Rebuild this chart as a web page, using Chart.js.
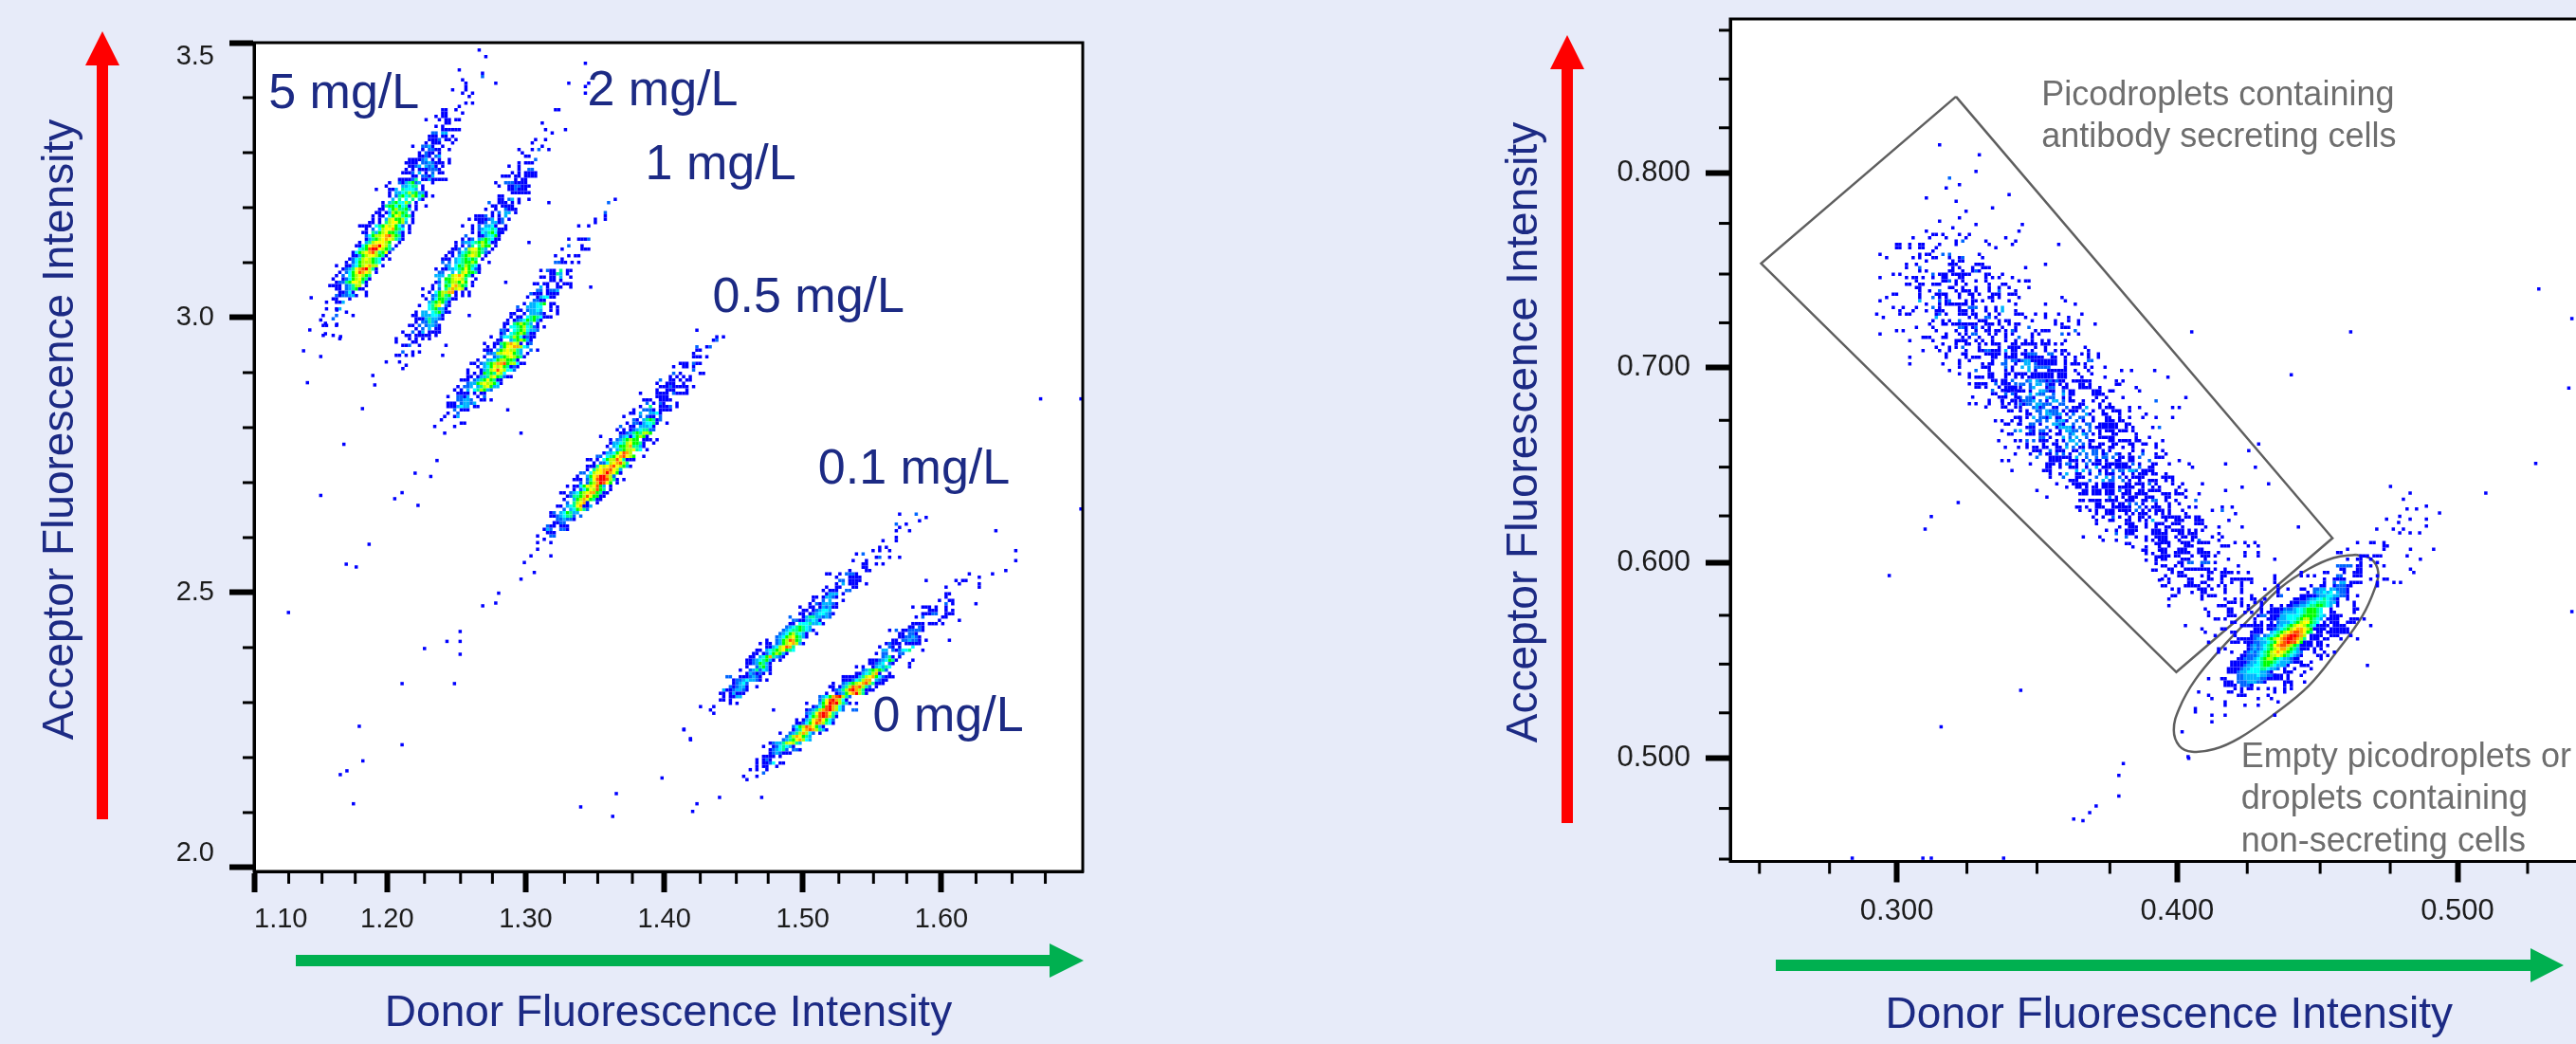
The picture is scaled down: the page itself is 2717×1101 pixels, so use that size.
<!DOCTYPE html>
<html>
<head>
<meta charset="utf-8">
<title>Donor vs acceptor fluorescence</title>
<script src="https://cdn.jsdelivr.net/npm/chart.js@4/dist/chart.umd.min.js"></script>
<style>
  html, body { margin: 0; width: 2717px; height: 1101px; overflow: hidden; background: #e7ebf9; }
  canvas { position: absolute; top: 0; }
  #left { left: 0; }
  #right { left: 1500px; }
</style>
</head>
<body>
<canvas id="left" width="1300" height="1101"></canvas>
<canvas id="right" width="1253" height="1101"></canvas>
<script>
// histogram cells. each row is [row, "cells"], a cell is
// "col" or "col-col" (lowest density) or "col=levels" (density 1..b, . = empty)
const dose5Cells = [
  [6,"47"],[8,"49"],[12,"41"],[13,"48"],[14,"48=2"],[15,"42"],[16,"43 52"],[17,"43"],[18,"39 43"],[19,"42 45"],[20,"44"],
  [22,"43 45"],[23,"41"],[24,"36-37 40"],[25,"36-37 42"],[26,"34 36-37"],[27,"31 35 37-38 40-41"],[28,"37-38"],[29,"34 36"],
  [30,"36-39 40-41"],[31,"33=22 36=33"],[32,"32-34 36-37 39"],[33,"32=1112 37-38 40"],[34,"31 33-35 39"],[35,"27 30=2231 36"],
  [36,"30 32=2211 38"],[37,"29=1.211.1"],[38,"29=1121.23"],[39,"26-29 30=23 33 35 38"],[40,"25-28 30=2232111 38"],
  [41,"26=1123.3231.1"],[42,"25=1.1.1112221"],[43,"24=1112.3.1.2.11"],[44,"27=11.2213"],[45,"23=111125.11311111"],
  [46,"20 23=2135623 33"],[47,"19 24=33455 30"],[48,"16 20 21=13.54443 30"],[49,"20 22=3345756331"],[50,"20 22=2564576461 33"],
  [51,"21=3.5.4.5.31"],[52,"18 20=3564475 28"],[53,"18=156646451 28 31"],[54,"17-18 20=4675563 28"],[55,"16-17 19=1376765 27"],
  [56,"15 17-18 20=46875651"],[57,"15 17 19=3786674 27"],[58,"14-15 17 19=5788673 27"],[59,"11-14 16=456878642 26"],
  [60,"13 15=2 17=47889654 26"],[61,"12-13 15=5367866531 26"],[62,"13=2467789a7651"],[63,"13=135678987531"],[64,"11 13=35788876 23"],
  [65,"10-11 12=46899b875 22"],[66,"11=456abb87652"],[67,"9 10=46789a75681"],[68,"9-10 11=367887651"],[69,"8 9=2457876541 20"],
  [70,"7 9=246777654"],[71,"4 7-8 9=34678977 18"],[72,"6=12 8=3589ab751"],[73,"5 7=2468a987 16"],[74,"4 6=2 8=4678765"],
  [75,"3 6=1246786 13=5 14"],[76,"4=12 6=25688751"],[77,"2-5 7=23577 13"],[78,"4=11 7=2356 11-12"],[79,"5=1124 9 13"],
  [80,"4=2122331 13"],[81,"3-4 8"],[82,"1 4=113"],[84,"1 4=13"],[85,"7"],[86,"0 4=2 9"],[87,"3=2"],[89,"0-1 4"],[92,"0 3"],[93,"5"]
];
const dose2Cells = [
  [10,"79"],[16,"74 80"],[17,"79"],[19,"79"],[24,"70-71"],[28,"66"],[30,"67 73"],[31,"69"],[33,"64 67"],[34,"63"],[35,"66"],
  [36,"59 63 65=2 68"],[37,"60"],[38,"61-62"],[39,"64=2"],[40,"59 61-63"],[41,"56 59"],[42,"59 62=22"],[43,"57 59 61-64"],
  [44,"54-56 58-59 61-64"],[45,"58 60-61"],[46,"52 55=2221111"],[47,"53 56=1122111"],[48,"56=112111"],[49,"57-62"],[50,"53-54"],
  [51,"53-54 56=23 59 62"],[52,"50=2 53-55 57 59 68"],[53,"51-52 54-57"],[54,"49 52 55=2111"],[55,"51 53=2 55=33 58"],
  [56,"46-48 49=2 51 53 55=3"],[57,"44 46=111123 53=12 56"],[58,"47=112 51=3312"],[59,"42 45 47=2 49=3341 55"],
  [60,"45 47=23445411 55"],[61,"45 47=14356411 53-54"],[62,"43=2 47=1134461"],[63,"42 44=12 47=35654 52-53"],
  [64,"40 42=2334567641 52 62"],[65,"40 42 44=25 47=5766 52"],[66,"39-40 41=2 43=3788653 51"],[67,"38-39 41=2456776521"],
  [68,"37 39 41=3567876 49"],[69,"36-38 40=3456565 48"],[70,"36=2 38=2 40=3456676 50"],[71,"37=23 40=46576541"],
  [72,"34 36-37 38=3345686421 47"],[73,"35=22 39=3 41=578665 47"],[74,"34=333 38=5789865 45"],[75,"35=3 37=6678875 46"],
  [76,"34=12 37=5677686 45 55"],[77,"33 35=3 37=6589765 45"],[78,"30 33 35=2 37=5797871"],[79,"32 34=4677991 42 44"],
  [80,"30 33=236756 40 42 44"],[81,"31 33=24665311"],[82,"32=3567631"],[83,"29 32=4578 37=21"],[84,"32=456331"],
  [85,"28 30=33 33=456311"],[86,"27-28 30=333443 36 44"],[87,"28=111353321"],[88,"28 30=22532"],[89,"26-27 29=2 31=23321"],
  [90,"28 30=2 32=3 34-35"],[91,"24 27=2 29=13 32-35"],[92,"25-26 28-32 34"],[93,"22 26 28 30 32"],[94,"22 27-28"],
  [95,"24-25 26=2 29 37"],[97,"24=2 27 29"],[98,"22-23 25 27 36"],[100,"19 23"],[101,"25"],[102,"24"]
];
const dose1UpperCells = [
  [51,"88"],[52,"86=2"],[55,"85=2"],[56,"85"],[57,"82 85"],[58,"82"],[59,"77 80"],[63,"74 77-79 80=2"],[65,"74=2 78"],
  [66,"72 78-80"],[68,"70 74 76-77"],[69,"72"],[70,"70=22 72-73 75 77"]
];
const dose1LowerCells = [
  [1,"37 39=2 40-41 43=5 45-46"],[2,"40=1153 45"],[3,"37-38 40-41 43=3 46"],[4,"40-41 43"],[5,"35-36 38-39 42 44-46"],
  [6,"37=3 39 42-43 46 52"],[7,"36=22 39=1223"],[8,"34=2111 39-42"],[9,"33 36 37=344 40-41"],[10,"35=22 37-38"],
  [11,"32 34=33456 40-41"],[12,"30=2 33=33344 40 42"],[13,"30-31 33=23343 40 42"],[14,"28-29 32 34=33321 42"],
  [15,"28 30-31 33=45654 38-40"],[16,"27 29=12346563 37"],[17,"26-27 29=567653 36"],[18,"26 28=445674521 38"],
  [19,"25=221 29=4567433 36=2"],[20,"25=12 28=45676311"],[21,"22 25=24457641 33=211"],[22,"24-25 28=3567631 34=3"],
  [23,"20 23-24 25=5679871 33=12"],[24,"21 23 25=368899743"],[25,"20-22 24=3678775 31=3 34=2 36"],[26,"21=22377888653 33"],
  [27,"20 23=235678765 32"],[28,"18 21=3346776651"],[29,"16-17 19=2356799a677411"],[30,"18 20=34687865321 28"],
  [31,"15 19=13578a8744 29=2"],[32,"15 17 19=16565874"],[33,"15-16 18=133578652 27=11"],[34,"13-15 17=2356865 24-25"],
  [35,"15=233678776 24=41"],[36,"12=1.223 18=35786 23=33"],[37,"11 13 15=3.457632"],[38,"12-15 17 19-20"],
  [39,"9 12=2213 18 20=2"],[40,"12=22332 19-20 22"],[41,"9-11 13=23323"],[42,"9-11 12=3433 17-18"],[43,"11=2 13 14-15 27"],
  [44,"9 12=2"],[45,"8 11 12=3"],[46,"7"],[47,"13-14"],[48,"5 11"],[50,"8"]
];
const dose05Cells = [
  [19,"84"],[21,"90 92"],[22,"89=12"],[24,"84=2 87=12"],[25,"84-85"],[26,"83"],[27,"83-85 87"],[29,"79-81 83=211"],[30,"77 80-81 83"],
  [31,"83=2"],[32,"77=2 79 85-86"],[33,"76 78 80 82"],[34,"73=2 76-77 79 81-82"],[35,"72 75-77 80"],[36,"73=111211111 83"],
  [37,"72 75-77 81"],[38,"67 72-75 77=2 78-80 81"],[39,"72-75"],[40,"68-70 73-76"],[41,"69=2 71 73=21 78"],
  [42,"67 70=5 73-75 76=2 78"],[43,"65 68=2221 73-76"],[44,"64-65 67=3 70=3341"],[45,"62 67=2 69=21 71 73=2"],
  [46,"65=21 68=3565 72 73=2"],[47,"63 65=2213 69=4451 75"],[48,"61=2 64-65 67=3334 71"],[49,"60 62 64=123455 70=22"],
  [50,"61=1123565776 31"],[51,"55 61=2341 65=4676 69"],[52,"58 60=2356766 68-70 72"],[53,"58=1334578665 68 71"],
  [54,"57 59=3466795 66=53 68"],[55,"58=2 60=35677854 69"],[56,"56 57=33468a97"],[57,"54=22 57=4 58=5689a876 68"],
  [58,"51-52 54 56=4 57=677a85 63-65"],[59,"53 55=224789a75"],[60,"51-53 54=58789a87631"],[61,"51 53=57899a876 61=3"],
  [62,"49=22 52=47889b9861 61"],[63,"48 51=3689bb976 59=2"],[64,"47-49 51=2 52=58abba751 62"],[65,"49=2 51=2679ba86 60"],
  [66,"45 47-48 49=46878a63 58"],[67,"47 49=2 50=4687a65 58"],[68,"43-44 46=23467899651 57"],[69,"45=125567a86611"],
  [70,"44 47=36798651 55"],[71,"45=2 47=57896 51=1 54"],[72,"42-43 45=345898 50=1 51=13"],[73,"44=2 46=346752"],
  [74,"40=12 43=346533"],[75,"40-41 42=2 43=34552 49=2"],[76,"42=22 44=3221"],[77,"41=1 42=122"],[78,"39=21 41 43-45"],
  [79,"38 39=32 43=221"],[80,"39-41"],[81,"36 40=22"],[82,"38"],[83,"36 40"],[85,"36"],[87,"34 40"],[89,"32"],[92,"35"],[94,"31"]
];
const dose01Cells = [
  [3,"65 70=2"],[4,"73"],[5,"71"],[6,"64=2 67"],[7,"65"],[8,"64 68 94"],[10,"64"],[11,"60 64"],[13,"59 61"],[14,"57 59 62 100"],
  [15,"52 54=2"],[16,"58=12 62 65"],[17,"51 55 100"],[18,"54-55 58 60"],[19,"54-55"],[20,"50 55-56 97"],[21,"43-44 47 49=2221 86 93"],
  [22,"46 50-53"],[23,"47=22 50-53"],[24,"46 48=3 50-52 55"],[25,"43 46-47 51-52"],[26,"42 44-46 49=22"],[27,"43=1333 48"],
  [28,"39-40 42=13321"],[29,"39 42=2 44=3 48"],[30,"38 40=2133321"],[31,"35 38-39 41=13231 46"],[32,"36-37 39=123443"],
  [33,"35-36 38=12344321"],[34,"32=2 36=1355332 43=32"],[35,"33=22113343 41"],[36,"32-33 35=44453341"],[37,"31=23456543"],
  [38,"30=2345565431"],[39,"29=234675431 40"],[40,"28=2346786531"],[41,"25 28=2367a965"],[42,"23 25-26 28=236789731"],
  [43,"25=113478a95"],[44,"22-23 25=345678654"],[45,"21-22 24=12467631"],[46,"20-21 23=34695321"],[47,"19-20 21=2345631 29"],
  [48,"19-20 21=236531"],[49,"19 22=25631"],[50,"17 20=2352431"],[51,"19=1321 23=21 26"],[52,"13=22 17-18 19=12321"],
  [53,"15=122343321 25"],[54,"15=12342"],[55,"14=212331 22"],[56,"12=31123321"],[57,"11-12 14=13111"],[58,"12 14-15 16=33"],
  [59,"11-12 14"],[60,"14 16"],[61,"5 9"],[62,"8 27"],[63,"9"],[68,"0"],[71,"2"]
];
const dose0Cells = [
  [22,"89"],[23,"73 82 84-85"],[24,"83 89"],[25,"79 89"],[27,"79-80"],[28,"79"],[29,"77 80-81"],[30,"79=2 81 88"],[31,"69 72-74 76 79"],
  [32,"74-76 79 81"],[33,"72-73 74=122 79-81"],[34,"70 72=2 78-79"],[35,"77 83"],[36,"69-72 74-76 78"],[37,"68-69 71=21"],
  [38,"62 64=2 66=1122221"],[39,"65-66 68=221"],[40,"65=1122321"],[41,"63-64 66=223221 73 80"],[42,"61=12 63-65 67-71"],
  [43,"59 62=21 65 69=4"],[44,"60=33 63=212445 72"],[45,"58 60=22 65=22"],[46,"60=2351 65"],[47,"56-58 59=234651 69"],
  [48,"56=11234 62=21 68"],[49,"52 54 57=1345 60=354 68"],[50,"54=23567652"],[51,"52-53 54=345791 62"],[52,"48-52 53=35789 58=642111"],
  [53,"48-50 51=245799 58=3211"],[54,"45 48=2356789a75 58-60"],[55,"44-45 47=1357a9a752 58"],[56,"45 46=2357ab975 55-57"],
  [57,"43 46=123689b75 55"],[58,"41=23469ab752"],[59,"41=258ab9741"],[60,"37 41=368bab7531 52"],[61,"39=1246ab9742"],
  [62,"37=123579ab9742 51=22"],[63,"37=2358aba853"],[64,"37=1467aba751"],[65,"34 36=13589a8642"],[66,"34=112468a97541"],
  [67,"33=2467a98631"],[68,"33=13589a97531"],[69,"29 32=23579742 41"],[70,"31=25798653"],[71,"30=235689743"],
  [72,"26=123 29=3578753"],[73,"24 27=1245431"],[74,"26=123452 33=22 35"],[75,"26=1232111"],[76,"24-27 29"],[77,"22 24=121"],
  [78,"22 24=1124.11"],[79,"22 24-25 28"],[80,"20 22 25"],[81,"24=2"],[82,"18 22"],[83,"19"]
];
const secretingUpperCells = [
  [6,"27"],[9,"39"],[14,"38"],[16,"30=2"],[18,"33"],[19,"29"],[21,"48"],[22,"23"],[23,"32"],[25,"43"],[26,"35"],[28,"33"],[29,"27"],
  [30,"38 52"],[31,"31"],[32,"23 51"],[33,"25-26 28 33 36"],[34,"19 24 29 35 47"],[35,"32 34=2 41 50"],[36,"14-15 18 21-22 27 32 42 49 63"],
  [37,"14-15 18 21-22 26 44"],[38,"25"],[39,"9 21 23-24 28=2 30=2 39"],[40,"11 19 21 25-26 30 33=12 40"],[41,"23 31 33-34"],
  [42,"17 20 30-32 38-40 59"],[43,"17 21=2 31 33 37 40-42 53"],[44,"21 23 30-31 34 37=121"],[45,"13 15 25=2 27-29 31-36 41-42 46"],
  [46,"9 17 19-20 22 25 28-29 33-34 41 43 45 49"],[47,"20 28-29 30=2 32 34 38 41 51 53-54"],[48,"17-18 21-22 25-27 32 35 42 46-47"],
  [49,"20-21 30-31 34 38 42 45 48 54"],[50,"21 24 27=2 32 34-36 38 42 45=2 50"],[51,"13-14 21 26-29 33 36-37 39 43-44 45 48-50"],
  [52,"11 21 25=2 27 29 33 37 42-43 45 51 64"],[53,"9 21=3 27=2 29 30=2 35 37-38 40 43 48 65"],[54,"23 27 29-35 37 50 59 68"],
  [55,"13 16 20 25=2 27 33 36=222 41 44 46=3"],[56,"15 19 23 26-28 33-35 37 41 44 46=3 50"],[57,"8 15 17-18 26 27=2 29 33-35 37-38 42 45 50-52 56 59 63 70"],
  [58,"10 26=3 36 38 41=22 44 53 59 66"],[59,"25 28 30 33=2 39-41 45 47-48 55 62 66 69"],[60,"24 28-29 31-37 38 41-43 45 48 50-51 62 64 69 74"],
  [61,"20 25 33=22 35 37 38=2 40 42 46 50 54=2 64-66"],[62,"14 16 26 32 35 38 41-42 44-45 47 49=2 50 56 58-60 68=2"],
  [63,"9 29 33 35 37=22 42 44 47 49 55 57 64=2 66 69"],[64,"22-24 28-29 34 36 39 43 47 51=2 55"],
  [65,"18 25 32-35 38 40 43 47 50 53 55 58 60 65"],[66,"28 32 35-36 39 41 43-45 49-50 52-56 58-60 62 64"],
  [67,"26 30 32 34=2 39 45 48-50 51 56 59 71"],[68,"22 27 30 35 39-40 41=22 43-45 47=3 49-50 53 55 59 62 64-65 72"],
  [69,"29 34-35 41-45 47 49-50 52=11222 60=22 64 66 70 72 75"],[70,"18 29 35 37-39 43-44 47 48-50 53-58 61-62 65 68 72 75"],
  [71,"33 36 43 47=2 49=2222 51 53=333 55-62 65 68 72=22"],[72,"18 28 33 40 42-43 46=22 50 53=33 56=2 57-62 65 67-69 71"],
  [73,"33 40-42 47=2 49 52=3 54=3 56=22222 65 71 73 77"],[74,"30 38=2 42 47 49 54=3 56 60-65 68 72 82 85 92"],
  [75,"33 36 42-43 47-48 50-53 55-61 63-65 69 73"],[76,"36 38-40 42-43 47 50 52 54-60 61 63-65 70 77 96"],
  [77,"43-44 46 47 49=2"],[78,"36 38-40 41 44=2 46-48 50=2"],[79,"38-39 41 45 47-50"],[80,"43=2 46-50"],
  [81,"43-44 47=2 49=2 50"],[82,"37 45-47 50"],[83,"42 46 49-50"],[84,"36 38 42 46 48 50"],[85,"41 46-47 50"]
];
const secretingLowerCells = [
  [0,"2=23 5=3221 9=212 12=11 16=111 19-21 29 31"],[1,"0=22 3=2 5=33 8=21 10=1 12=1 14=1 18=11 21=1 29-30"],[2,"0 3=2 4=3 8=122 13=11 18-21 24 35"],
  [3,"0-1 3 6=33 8=211 13=2 15=11 22-24 27-28 36"],[4,"3=3 5=322 10=2 13=3 15=11 22-25"],[5,"0=2 2=221 8=3 9=22 13 15 23 26 31 50"],
  [6,"0=12223 6=2 8 10=33 13=2 15=11 19 22 25 41=2"],[7,"0=21 2=22 5=33 7=222 12=22 18-19 24 27"],[8,"0 4=2 5=31 7=2 10-11 14=2 16-18 20=3 24 26-28 33 36 46 48"],
  [9,"0 2 5=22 8=322 11=2 13 15-17 19=2 22 25 28-30 33"],[10,"2-3 6=2 8=33 10=22 12=3 14 16=2 20=31 25-26 30 38"],
  [11,"0 2 4=3 6=221 9=3 11-12 15=2 18=22 22 26-27 30 33 37 41 46"],[12,"0 5=22 8=2 11=233 14 17=2 19 22 26-28 30-31"],
  [13,"0 3=22 6 10=33 12=21 16=2 20=22 24-29 32-33"],[14,"2-4 8=2 11=13 13=333 16 18=2 21=2 23-29 32 34 40 42=2"],
  [15,"0=3 3=21 6=22 9 12 14=33 16=22 19 21=2 24 26-28 30-32 34"],[16,"2-4 6-8 11-12 15=2 16=3 19=3 20=2 22 24 28-29 35"],
  [17,"6=2 7=2 9 13=3 15=2 17=3 20=2 24-28 35 39"],[18,"0 2=2 4=2 6-8 11 13 15=33 18=2 21-22 27-28 30-33 35-36 43"],
  [19,"2 7 10-11 14=2 17=3 19=2 21 24-25 28-29 33-34 37-38 41 72"],[20,"2 4-5 7-8 11-12 14=3 16=2 18-19 21-24 27-28 31 34 41"],
  [21,"4-6 9=2 11-13 16-17 19=3 22=22 25 27 34 37 43 69"],[22,"3 6=2 8-9 11=2 13=2 15 18=2 20=2 22=22 25=12 29=21 33 37=2 41 44"],
  [23,"5=2 9-11 12-15 17=3 20=2 23=2 25=22 28=2 30-31 33-34 36=2 41-43"],[24,"9-12 15-17 19 21=2 23-24 26 29-30 33-34 39=2 48"],
  [25,"3 8-10 12 14=22 17 20=2 22-24 26-32 34=2 36 40-41 45 51 62"],[26,"8-9 12 15-17 20 23=3 25-27 29-33 36=2 39-40 52 71"],
  [27,"7-9 17=3 19=3 21=2 24 26 28=2 30=22 33=33 35=2 37-40"],[28,"9 12 14=3 17-18 21 24=2 26-28 31 34 36-38 40-41 44"],
  [29,"9 13=2 17-19 23=2 26=3 28=2 30=2 32 34-37 43-46"],[30,"15-17 21=2 25=3 27=22 31=2 33 36 39-41 44 46"],
  [31,"11 16-20 23 25-28 32-33 35-37 39=2 41 46 49 55 75"],[32,"14 17-18 20 22-23 25-28 30-34 37 40 42 48 67"],
  [33,"5 19-20 22-24 26-28 30=2 32-33 36-37 39-42 47 50 62"],[34,"18-20 22-24 26-28 31-33 35-38 43-45 47-49 54"],
  [35,"8 27=2 29 31 33-35 38-40 44-45 50"],[36,"18-19 21-24 26-29 32-34 37-38 40=22 44 47 53=2"],[37,"23-24 28 30-31 33=2 35=2 37 41 45 48"],
  [38,"17-18 20 23-25 28-33 36=2 38 40-42 45 51 53 61 64"],[39,"18 21 23 26-28 30-33 35=2 37 39 41-43 45 49 58 61=2"],
  [40,"23 26-28 32 34 36-38 41 43 45 50 65"],[41,"22 25 28=2 30 33 36-37 39 43-48 50-51 53-54"],[42,"23 27-28 32-33 36 38 40=3 44 47-49 53-55 63"],
  [43,"23 32-34 38 41-43 46-48 53-55"],[44,"30 33-35 38 41 44-45 49 56 60 67 84"],[45,"26 29 32-35 40-42 44 46-49 51 53 55"],
  [46,"29=2 32-34 40-44 48-49 51-53 60"],[47,"19 24 32=2 35 38 41-44 47 49-50 52-53 58 61"],[48,"25 29 38 40 42-44 48 52 54=2 60"],
  [49,"32-33 41-42"],[50,"34 38 42"],[51,"37-38 42"],[52,"38 40"],[53,"41-42"],[54,"38 41"],[55,"41"],[57,"40-41"],[60,"42"]
];
const secretingEdgeCells = [
  [2,"6-7"],[3,"5 8"],[5,"8"],[6,"3 6"],[9,"5-6"],[11,"7-8"],[12,"1 3 6"],[13,"4-5 8"],[15,"3 7=2"],[16,"5-6"],[18,"2 7"],[20,"4 8"],[22,"7"],[24,"3 5"],[27,"6"]
];
const emptyCells = [
  [0,"0-2 6-8 11-14 22 25 28 59 63-64 67"],[1,"2 7-9 18-20 26 29 67-68"],[2,"0-1 5-7 11-12 56 67 75 82"],[3,"0-1 4-8 11-14 17 25 29 53-54"],
  [4,"0-2 4-5 9 12-14 16 25 29 60-62 64-66 74"],[5,"0-1 6-8 13 20 34 56 59-60 63 78"],[6,"5-6 8=22 12=22 14=2 16 60 65"],[7,"0-1 4 6 12 23 53=22222 59-60 63 67"],
  [8,"2-3 7-11 12-14 16 19 54-55 59-60 75"],[9,"3 5-6 14-15 18-21 23 26 42 49-50 55 58-60 76"],[10,"1 5-7 12 14 18-19 34 42 44 46 53=22 58-60 65"],
  [11,"0 2 8-9 14-15 18 21-27 34 49 52-55 63 67-68"],[12,"2 8-9 12-13 18 21 24 27 34 49 52=2 54=33 57-60 65 70 72"],[13,"0-1 7-11 14 17 19 24 35 45 48-49 52=122211 65"],
  [14,"3 5 11-13 15 19 24 31 35 38 42-43 46=2233 51=33 53=2221"],[15,"5 9 12-13 19 24 35 44 46=2334 50=34 53=3221"],[16,"3-4 12 14-16 27 35 36=2 42-45 46=1233443322 56 59"],
  [17,"2 12 19 22 24 27-28 31 40-42 43=12334454321 56"],[18,"20-22 24 28 30 39-41 42=223445554331 58"],[19,"2 17-19 24 26 30 33 36 38=1122 42=3345566543 53 58"],
  [20,"13 20-21 26 30 33-35 36=1222 40=344566654 51 58-59"],[21,"14 20-21 25 27 30 32-35 36=2333 40=344566654 51-52 58"],[22,"14 20-22 29 30=22 33-35 36=3344 40=4456666543 51-54"],
  [23,"16-17 19 28 32-34 35=2334 39=4456776543 50-53 57-59 61"],[24,"21-22 28 30 33 35=233 38=3456788654 49 51-53 56-58"],[25,"7 24-30 32-34 35=33456788765 46=4 47-50 52-55 63"],
  [26,"12 18-19 28-30 32-33 34=234567899876 46-49 51-56"],[27,"13 21-22 27-30 33=3456789aa9865 47-48 50-56"],[28,"16 22 27=122 31=2345689abba97 45-48 51-53 57"],
  [29,"23-25 26=1123 30=3456789abba975 45-47 49-50 54 59"],[30,"14 21-23 25-26 27=1223 31=345689abaa86 43-45 47-48"],[31,"26=123 29=2345689aa9765 42-45 47-48 50"],
  [32,"17 19 26=123 29=234567899765 41=3 42-44 46 48"],[33,"17 21 25=123 28=23456789876 39=5432 46 49 52"],[34,"24=1122 28=23456778765 39=4321 47-48 50"],
  [35,"23=1122 27=2345677654 37=3321 41 48"],[36,"21-24 25=123 28=345666543 37=3321 41-42 45"],[37,"21-24 25=233 28=44566543 36=33 38 42-44 62"],
  [38,"20-23 24=2334 28=4455433 35=2 37 40 45"],[39,"20-22 23=233 26=4444332 33 37-39 43"],[40,"23=2233 27=334332 33=21 34-36 38 42"],
  [41,"14 18-19 23=2233 27=33322 32-36 38"],[42,"19-21 23=22 25=2333221 37-39 43"],[43,"19-22 24=2221 27 37 39"],[44,"22 24 26-27 29 32 34 37 39"],
  [45,"11 20-21 24 34 37"],[46,"14 23-25 32"],[47,"15 29 33"],[48,"19 35"],[49,"19 25 29"],[50,"10"],[51,"10"],[52,"15 19 34"],[54,"15"],[57,"6"],[65,"8"]
];

// single stray events
const strayLeftX = [1.1452,1.1637,1.1521,1.1442,1.1555,1.1637,1.1555,1.1664,1.1397,1.1521,1.1425,1.1897,1.1911,1.1822,1.1688,1.2360,1.2202,1.2315,1.1521,1.2108,1.2055,1.2223,1.1870,1.1705,1.1777,1.1288,1.2527,1.2432,1.2527,1.2270,1.2527,1.2108,1.2486,1.1799,1.2108,1.1825,1.1710,1.1662,1.1757,1.3397,1.3654,1.3628,1.3984,1.4142,1.4189,1.4205,1.4236,1.4399,1.4703,1.2805,1.2784,1.2690,1.6716,1.7007,1.7007];
const strayLeftY = [3.0362,3.0138,2.9957,2.9776,2.9897,2.9879,2.9707,2.9655,2.9397,2.9293,2.8817,2.8948,2.8776,2.8345,2.7697,2.7402,2.7172,2.7112,2.6767,2.6817,2.6707,2.6586,2.5879,2.5517,2.5466,2.4638,2.4293,2.4113,2.4113,2.3983,2.3879,2.3345,2.3345,2.2569,2.2233,2.1940,2.1759,2.1690,2.1160,2.1103,2.1345,2.0931,2.1629,2.2517,2.2345,2.1021,2.1160,2.1276,2.1276,2.4990,2.4810,2.4759,2.8523,2.8523,2.6521];
const strayRightX = [.5290,.5408,.4619,.4407,.5397,.5279,.4761,.5101,.4807,.4831,.4889,.4854,.4820,.4936,.4831,.4889,.4747,.4790,.4794,.4889,.4712,.4771,.4807,.4794,.4831,.4865,.5408,.4052,.3219,.3123,.3101,.2973,.3442,.3158,.4039,.3808,.3792,.3792,.3711,.3688,.3631,.3664,.2841,.3093,.3123,.3381];
const strayRightY = [.7404,.7251,.7183,.6963,.6896,.6509,.6391,.6357,.6325,.6357,.6290,.6275,.6275,.6255,.6223,.6223,.6223,.6206,.6238,.6188,.6172,.6172,.6172,.6153,.6153,.6153,.5749,.7183,.6308,.6237,.6172,.5934,.5346,.5158,.5005,.4970,.4909,.4804,.4752,.4718,.4685,.4677,.4485,.4485,.4485,.4485];

// gates on the right plot
const gateX = [.3211,.2516,.3997,.4554,.3211];
const gateY = [.8390,.7534,.5439,.6126,.8390];
const ellipseX = [.4638,.4694,.4717,.4706,.4660,.4571,.4469,.4346,.4222,.4132,.4053,.4008,.3988,.4008,.4065,.4154,.4267,.4368,.4469,.4559,.4638];
const ellipseY = [.6041,.6017,.5952,.5871,.5725,.5547,.5368,.5223,.5101,.5044,.5031,.5060,.5141,.5255,.5401,.5555,.5725,.5871,.5968,.6025,.6041];

// axis ticks
const leftXMajor = [1.104,1.2,1.3,1.4,1.5,1.6,1.702];
const leftXLabels = ['1.10','1.20','1.30','1.40','1.50','1.60',''];
const leftXMinor = [1.129,1.153,1.177,1.227,1.253,1.276,1.328,1.352,1.377,1.426,1.452,1.475,1.526,1.551,1.575,1.625,1.651,1.675];
const leftYMajor = [2,2.5,3,3.5];
const leftYLabels = [['2.0',''],'2.5','3.0',['','3.5']];
const leftYMinor = [2.1,2.2,2.3,2.4,2.6,2.7,2.8,2.9,3.1,3.2,3.3,3.4];
const rightXMajor = [.3,.4,.5];
const rightXLabels = ['0.300','0.400','0.500'];
const rightXMinor = [.251,.276,.325,.35,.376,.425,.451,.476,.525];
const rightYMajor = [.5,.6,.7,.8];
const rightYLabels = ['0.500','0.600','0.700','0.800'];
const rightYMinor = [.448,.474,.523,.548,.573,.624,.649,.673,.723,.748,.774,.823,.848,.873];

// labels inside the plots
const doseText = ['5 mg/L','2 mg/L','1 mg/L','0.5 mg/L','0.1 mg/L','0 mg/L'];
const doseX = [1.1144,1.3445,1.3863,1.4349,1.5110,1.5505];
const doseY = [3.3817,3.3862,3.2517,3.0110,2.6990,2.2474];
const gateText = ['Picodroplets containing','antibody secreting cells','Empty picodroplets or','droplets containing','non-secreting cells'];
const gateTextX = [.3516,.3516,.4228,.4228,.4228];
const gateTextY = [.8347,.8131,.4952,.4738,.4520];

const levelColors = ['#0000ff','#0066ff','#00b4ff','#00ffff','#00ff90','#00ff00','#b0ff00','#ffff00','#ffaa00','#ff5000','#ff0000'];
const TITLE_BLUE = '#1c2a84';

function addCells(levels, rows, x0, y0, binX, binY) {
  function put(row, col, level) {
    levels[level - 1].push({x: x0 + (col + .5) * binX, y: y0 - (row + .5) * binY});
  }
  rows.forEach(function (item) {
    item[1].trim().split(/\s+/).forEach(function (tok) {
      if (tok.indexOf('=') > 0) {
        const parts = tok.split('=');
        parts[1].split('').forEach(function (ch, i) {
          if (ch !== '.') put(item[0], +parts[0] + i, parseInt(ch, 16));
        });
      } else {
        const ends = tok.split('-');
        for (let c = +ends[0]; c <= +ends[ends.length - 1]; c++) put(item[0], c, 1);
      }
    });
  });
}

function emptyLevels() {
  return levelColors.map(function () { return []; });
}

function cellDatasets(levels, radius) {
  return levels.map(function (pts, i) {
    return {type: 'scatter', data: pts, pointStyle: 'rect', pointRadius: radius, pointHoverRadius: radius,
      pointBorderWidth: 0, backgroundColor: levelColors[i], showLine: false};
  });
}

function zipPoints(xs, ys) {
  return xs.map(function (x, i) { return {x: x, y: ys[i]}; });
}

function arrowPath(ctx, pts, color) {
  ctx.fillStyle = color;
  ctx.beginPath();
  pts.forEach(function (p, i) { if (i) ctx.lineTo(p[0], p[1]); else ctx.moveTo(p[0], p[1]); });
  ctx.closePath();
  ctx.fill();
}

// frame, minor ticks, arrows, in-plot text and the y title
function decorPlugin(cfg) {
  return {
    id: 'decor',
    beforeDraw: function (chart) {
      const a = chart.chartArea, ctx = chart.ctx;
      ctx.save();
      ctx.fillStyle = '#ffffff';
      ctx.fillRect(a.left, a.top, a.right - a.left, a.bottom - a.top);
      cfg.arrows.forEach(function (arrow) { arrowPath(ctx, arrow.pts, arrow.color); });
      ctx.translate(cfg.yTitleX, cfg.yTitleY);
      ctx.rotate(-Math.PI / 2);
      ctx.font = cfg.titleFont;
      ctx.fillStyle = TITLE_BLUE;
      ctx.textAlign = 'center';
      ctx.textBaseline = 'middle';
      ctx.fillText('Acceptor Fluorescence Intensity', 0, 0);
      ctx.restore();
    },
    afterDraw: function (chart) {
      const a = chart.chartArea, ctx = chart.ctx, sx = chart.scales.x, sy = chart.scales.y;
      ctx.save();
      ctx.strokeStyle = '#000';
      ctx.lineWidth = 3;
      ctx.strokeRect(a.left, a.top, a.right - a.left, a.bottom - a.top);
      ctx.fillStyle = '#000';
      cfg.minorX.forEach(function (v) { ctx.fillRect(sx.getPixelForValue(v) - 1.5, a.bottom, 3, 13); });
      cfg.minorY.forEach(function (v) { ctx.fillRect(a.left - 12, sy.getPixelForValue(v) - 1.5, 12, 3); });
      ctx.font = cfg.noteFont;
      ctx.fillStyle = cfg.noteColor;
      ctx.textBaseline = 'alphabetic';
      cfg.text.forEach(function (t, i) {
        ctx.fillText(t, sx.getPixelForValue(cfg.textX[i]), sy.getPixelForValue(cfg.textY[i]));
      });
      ctx.restore();
    }
  };
}

function makeChart(id, spec) {
  new Chart(document.getElementById(id), {
    data: {datasets: spec.datasets},
    options: {
      responsive: false,
      animation: false,
      events: [],
      layout: {padding: spec.padding},
      plugins: {legend: {display: false}, tooltip: {enabled: false}},
      scales: {
        x: {
          type: 'linear', min: spec.xMin, max: spec.xMax,
          afterBuildTicks: function (s) { s.ticks = spec.xMajor.map(function (v) { return {value: v}; }); },
          afterFit: function (s) { s.height = spec.xAxisHeight; s.paddingLeft = 0; s.paddingRight = 0; },
          grid: {drawOnChartArea: false, tickLength: 22, tickWidth: 6,
            tickColor: function (c) { return spec.xLabels[c.index] === '' ? 'rgba(0,0,0,0)' : '#000'; }},
          border: {display: true, color: '#000', width: 3},
          ticks: {autoSkip: false, maxRotation: 0, align: spec.xAlign, padding: spec.xPad, color: '#1c1c1c',
            font: {family: 'Liberation Sans', size: spec.tickSize},
            callback: function (v, i) { return spec.xLabels[i]; }},
          title: {display: true, text: 'Donor Fluorescence Intensity', color: TITLE_BLUE,
            font: {family: 'Liberation Sans', size: spec.titleSize}, padding: {top: 0, bottom: spec.xTitlePad}}
        },
        y: {
          type: 'linear', min: spec.yMin, max: spec.yMax,
          afterBuildTicks: function (s) { s.ticks = spec.yMajor.map(function (v) { return {value: v}; }); },
          afterFit: function (s) { s.width = spec.yAxisWidth; s.paddingTop = 0; s.paddingBottom = 0; },
          grid: {drawOnChartArea: false, tickLength: 26, tickWidth: 6, tickColor: '#000'},
          border: {display: true, color: '#000', width: 3},
          ticks: {autoSkip: false, padding: 16, color: '#1c1c1c',
            font: {family: 'Liberation Sans', size: spec.tickSize, lineHeight: 1},
            callback: function (v, i) { return spec.yLabels[i]; }}
        }
      }
    },
    plugins: [decorPlugin(spec.decor)]
  });
}

// left plot
const leftLevels = emptyLevels();
const LEFT_BIN_X = 3.5 / 1461.5, LEFT_BIN_Y = 3.5 / 580;
addCells(leftLevels, dose5Cells, 1.1527, 3.5259, LEFT_BIN_X, LEFT_BIN_Y);
addCells(leftLevels, dose2Cells, 1.1527, 3.5259, LEFT_BIN_X, LEFT_BIN_Y);
addCells(leftLevels, dose1UpperCells, 1.1527, 3.5259, LEFT_BIN_X, LEFT_BIN_Y);
addCells(leftLevels, dose1LowerCells, 1.2212, 3.0948, LEFT_BIN_X, LEFT_BIN_Y);
addCells(leftLevels, dose05Cells, 1.2212, 3.0948, LEFT_BIN_X, LEFT_BIN_Y);
addCells(leftLevels, dose01Cells, 1.4130, 2.6638, LEFT_BIN_X, LEFT_BIN_Y);
addCells(leftLevels, dose0Cells, 1.4130, 2.6638, LEFT_BIN_X, LEFT_BIN_Y);
zipPoints(strayLeftX, strayLeftY).forEach(function (p) { leftLevels[0].push(p); });

makeChart('left', {
  datasets: cellDatasets(leftLevels, 2.48),
  padding: {left: 0, top: 45, right: 158, bottom: 0},
  xMin: 1.104, xMax: 1.702, yMin: 1.993, yMax: 3.5,
  xMajor: leftXMajor, xLabels: leftXLabels, yMajor: leftYMajor, yLabels: leftYLabels,
  xAxisHeight: 182, yAxisWidth: 268, xAlign: 'inner', xPad: 12, xTitlePad: 4,
  tickSize: 29, titleSize: 46,
  decor: {
    minorX: leftXMinor, minorY: leftYMinor,
    text: doseText, textX: doseX, textY: doseY,
    noteFont: '52px "Liberation Sans"', noteColor: TITLE_BLUE,
    titleFont: '46px "Liberation Sans"', yTitleX: 64, yTitleY: 453,
    arrows: [
      {color: '#ff0000', pts: [[108,33],[126,69],[114,69],[114,864],[102,864],[102,69],[90,69]]},
      {color: '#00b050', pts: [[1143,1013],[1107,1031],[1107,1019],[312,1019],[312,1007],[1107,1007],[1107,995]]}
    ]
  }
});

// right plot, its axis runs on past the edge of the page
const rightLevels = emptyLevels();
const RIGHT_BIN_X = 3.5 / 2965, RIGHT_BIN_Y = 3.5 / 2057;
addCells(rightLevels, secretingUpperCells, .2828, .8253, RIGHT_BIN_X, RIGHT_BIN_Y);
addCells(rightLevels, secretingLowerCells, .3435, .6940, RIGHT_BIN_X, RIGHT_BIN_Y);
addCells(rightLevels, secretingEdgeCells, .3334, .6940, RIGHT_BIN_X, RIGHT_BIN_Y);
addCells(rightLevels, emptyCells, .3941, .6111, RIGHT_BIN_X, RIGHT_BIN_Y);
zipPoints(strayRightX, strayRightY).forEach(function (p) { rightLevels[0].push(p); });

const gateSets = [
  {type: 'line', data: zipPoints(gateX, gateY), borderColor: '#5f5f5f', borderWidth: 2.5, pointRadius: 0, tension: 0},
  {type: 'line', data: zipPoints(ellipseX, ellipseY), borderColor: '#5f5f5f', borderWidth: 2.5, pointRadius: 0, tension: .4}
];

makeChart('right', {
  datasets: cellDatasets(rightLevels, 2.48).concat(gateSets),
  padding: {left: 0, top: 20, right: 0, bottom: 0},
  xMin: .2406, xMax: .5536, yMin: .4468, yMax: .8788,
  xMajor: rightXMajor, xLabels: rightXLabels, yMajor: rightYMajor, yLabels: rightYLabels,
  xAxisHeight: 192.5, yAxisWidth: 325, xAlign: 'center', xPad: 12, xTitlePad: 2,
  tickSize: 31, titleSize: 46,
  decor: {
    minorX: rightXMinor, minorY: rightYMinor,
    text: gateText, textX: gateTextX, textY: gateTextY,
    noteFont: '36px "Liberation Sans"', noteColor: '#6e6e6e',
    titleFont: '46px "Liberation Sans"', yTitleX: 108, yTitleY: 456,
    arrows: [
      {color: '#ff0000', pts: [[153,37],[171,73],[159,73],[159,868],[147,868],[147,73],[135,73]]},
      {color: '#00b050', pts: [[1204,1018],[1169,1036],[1169,1024],[373,1024],[373,1012],[1169,1012],[1169,1000]]}
    ]
  }
});
</script>
</body>
</html>
